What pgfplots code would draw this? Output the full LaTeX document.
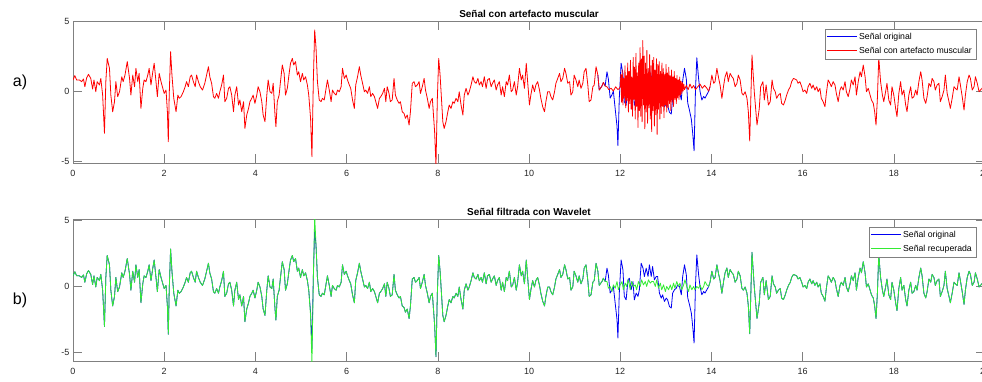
\documentclass[border=0pt]{standalone}
\usepackage{fontspec}
\setmainfont{Liberation Sans}
\usepackage{pgfplots}
\usepackage{pgfplotstable}
\pgfplotsset{compat=1.18}
\definecolor{mblue}{rgb}{0,0,0.95}
\definecolor{mred}{rgb}{1,0,0}
\definecolor{mgreen}{rgb}{0.2,0.92,0.2}
\definecolor{axgray}{gray}{0.5}

\pgfplotstableread[row sep=\\]{x y\\
0.00 0.79\\0.04 1.10\\0.08 0.79\\0.14 0.79\\0.19 0.67\\0.23 0.86\\0.26 0.31\\0.30 0.95\\0.34 1.19\\0.39 0.90\\0.43 0.14\\0.46 0.79\\0.50 -0.05\\0.53 0.67\\0.58 0.43\\0.61 0.90\\0.65 -0.29\\0.69 -3.02\\0.72 0.67\\0.75 2.33\\0.80 1.62\\0.83 -0.29\\0.87 -1.48\\0.91 -0.76\\0.94 0.67\\0.98 -0.40\\1.02 -0.05\\1.07 1.02\\1.10 0.67\\1.14 1.14\\1.19 2.10\\1.24 0.90\\1.27 -0.29\\1.31 1.14\\1.35 0.31\\1.38 1.62\\1.42 0.67\\1.45 1.26\\1.49 -1.24\\1.53 0.19\\1.56 0.79\\1.60 0.67\\1.64 1.14\\1.67 1.62\\1.71 0.43\\1.75 1.38\\1.78 1.98\\1.82 0.67\\1.85 -0.40\\1.89 1.26\\1.93 0.67\\1.97 0.19\\2.00 -0.17\\2.04 0.07\\2.07 -1.48\\2.09 -3.62\\2.11 -0.29\\2.14 2.81\\2.17 1.14\\2.21 -0.52\\2.26 -1.48\\2.30 -0.29\\2.33 -0.52\\2.37 -0.40\\2.42 -0.05\\2.46 0.31\\2.49 0.67\\2.53 0.31\\2.57 1.02\\2.60 1.14\\2.64 0.67\\2.68 0.31\\2.71 1.14\\2.75 0.67\\2.79 0.31\\2.84 0.07\\2.89 0.55\\2.97 1.74\\3.00 1.02\\3.04 0.55\\3.08 -0.40\\3.11 -0.52\\3.15 -0.17\\3.19 -0.52\\3.22 -0.05\\3.26 0.43\\3.30 1.14\\3.33 -0.76\\3.37 -0.52\\3.41 0.19\\3.44 0.31\\3.48 -0.29\\3.52 -1.48\\3.55 -0.29\\3.59 0.31\\3.63 -1.00\\3.66 -0.64\\3.70 -1.48\\3.74 -0.76\\3.77 -2.67\\3.81 -1.71\\3.85 -1.24\\3.88 -0.76\\3.92 -0.52\\3.95 -0.29\\
3.99 -0.88\\4.03 -0.29\\4.06 0.31\\4.10 -0.05\\4.14 -0.76\\4.17 -1.71\\4.21 -2.19\\4.25 -0.29\\4.28 0.79\\4.32 -0.05\\4.36 -0.17\\4.39 0.55\\4.43 -1.71\\4.45 -2.55\\4.48 -0.76\\4.52 -0.29\\4.55 0.67\\4.59 1.86\\4.63 1.26\\4.66 -0.29\\4.70 0.19\\4.74 1.26\\4.77 1.98\\4.81 2.33\\4.84 1.86\\4.88 2.10\\4.92 1.14\\4.95 1.38\\4.99 0.67\\5.03 1.26\\5.06 0.79\\5.10 1.02\\5.14 0.43\\5.17 -0.29\\5.21 -1.95\\5.24 -4.69\\5.27 0.67\\5.30 4.36\\5.33 3.05\\5.36 0.67\\5.40 -0.64\\5.44 -0.76\\5.47 -0.52\\5.51 -0.64\\5.55 0.19\\5.58 0.79\\5.62 0.07\\5.66 -0.76\\5.69 0.07\\5.73 -0.17\\5.77 -0.29\\5.80 0.07\\5.84 -0.05\\5.88 0.31\\5.91 1.62\\5.95 0.90\\5.99 1.14\\6.02 0.79\\6.06 0.43\\6.09 0.19\\6.13 -0.64\\6.17 -1.24\\6.20 0.43\\6.24 1.02\\6.28 1.74\\6.31 1.14\\6.35 0.55\\6.39 -0.05\\6.42 0.07\\6.46 -0.17\\6.50 0.31\\6.53 -0.40\\6.57 -0.17\\6.61 -0.40\\6.64 -0.76\\6.68 -1.24\\6.72 -0.52\\6.75 -0.40\\6.79 -0.17\\6.83 0.19\\6.86 -0.76\\6.89 0.31\\6.93 -0.17\\6.96 -0.76\\7.00 -0.64\\7.04 0.90\\7.07 -0.29\\7.11 -0.64\\7.15 -0.88\\7.18 -0.76\\7.22 -1.48\\7.26 -1.60\\7.29 -1.95\\7.33 -1.71\\7.37 -2.43\\7.40 -1.48\\7.44 0.55\\7.48 0.67\\7.51 0.31\\7.55 0.43\\7.59 0.67\\7.62 -0.17\\7.66 0.31\\7.70 0.90\\7.73 0.07\\7.77 -0.52\\7.81 -1.24\\7.84 -0.76\\7.88 -0.52\\
7.93 -2.90\\7.96 -5.30\\7.99 -0.52\\8.02 2.33\\8.05 1.14\\8.08 -0.52\\8.11 -2.19\\8.14 -2.67\\8.18 -2.19\\8.22 -1.48\\8.25 -1.00\\8.29 -1.24\\8.33 -0.76\\8.36 -0.88\\8.40 -0.52\\8.44 -0.76\\8.47 -0.05\\8.51 -1.00\\8.55 -1.71\\8.58 -0.29\\8.62 0.19\\8.66 -0.29\\8.69 -0.05\\8.73 0.43\\8.77 1.02\\8.80 0.67\\8.84 0.55\\8.88 0.90\\8.91 0.43\\8.95 0.67\\8.98 0.31\\9.02 1.02\\9.06 0.19\\9.09 0.79\\9.13 0.90\\9.17 0.31\\9.20 0.55\\9.24 0.79\\9.28 0.07\\9.31 0.43\\9.35 0.67\\9.39 -0.29\\9.42 0.31\\9.46 -0.40\\9.50 0.67\\9.53 0.43\\9.57 1.14\\9.61 -0.05\\9.64 0.07\\9.68 0.67\\9.72 -0.29\\9.75 0.31\\9.79 1.62\\9.83 0.79\\9.86 1.14\\9.90 0.19\\9.94 1.98\\9.97 0.67\\10.01 -1.00\\10.04 -0.29\\10.08 0.43\\10.12 -0.05\\10.15 0.43\\10.19 0.67\\10.23 0.07\\10.26 -0.52\\10.30 -1.12\\10.34 -1.48\\10.37 -0.76\\10.41 -0.05\\10.45 -0.05\\10.48 -0.40\\10.52 -0.64\\10.56 -0.05\\10.59 0.55\\10.63 0.90\\10.67 1.26\\10.70 0.67\\10.74 0.90\\10.78 1.62\\10.81 1.26\\10.85 0.55\\10.89 0.67\\10.92 -0.29\\10.96 -0.05\\10.99 1.14\\11.03 0.79\\11.07 0.31\\11.10 0.79\\11.14 0.19\\11.18 0.55\\11.21 1.38\\11.25 1.62\\11.29 0.43\\11.32 -0.76\\11.36 -0.64\\11.40 0.31\\11.43 0.43\\11.47 1.74\\11.51 1.14\\11.54 0.07\\
11.60 0.36\\11.63 0.61\\11.67 0.36\\11.71 1.37\\11.74 0.86\\11.78 -0.51\\11.82 -0.26\\11.85 -0.01\\11.89 -1.27\\11.93 -2.52\\11.95 -3.90\\11.98 -0.51\\12.02 1.99\\12.06 1.24\\12.09 -0.76\\12.13 -1.02\\12.17 0.49\\12.20 0.61\\12.24 -0.26\\12.28 0.36\\12.31 -1.02\\12.35 -0.51\\12.39 -0.76\\12.42 -0.26\\12.46 1.74\\12.50 1.37\\12.53 0.74\\12.57 1.37\\12.61 0.74\\12.64 1.62\\12.68 0.74\\12.71 1.49\\12.75 0.49\\12.79 0.74\\12.82 0.74\\12.86 -0.51\\12.90 -0.89\\12.93 -0.64\\12.97 -1.14\\13.01 -0.89\\13.04 -1.02\\13.08 -1.52\\13.12 -1.64\\13.15 -0.51\\13.19 -0.26\\13.23 -0.14\\13.26 0.11\\13.30 -0.01\\13.34 -0.64\\13.37 0.74\\13.41 1.62\\13.45 0.86\\13.48 -0.84\\13.52 -1.39\\13.56 -2.02\\13.59 -3.02\\13.62 -4.27\\13.65 -0.01\\13.68 2.37\\13.72 0.86\\13.75 -0.01\\13.79 -0.64\\13.83 -0.39\\13.86 -0.51\\13.90 -0.26\\13.94 -0.01\\
13.97 0.31\\14.01 1.14\\14.05 0.55\\14.08 0.67\\14.12 1.62\\14.16 0.90\\14.19 0.43\\14.23 -0.52\\14.27 0.43\\14.30 1.02\\14.34 1.38\\14.37 0.67\\14.41 1.26\\14.45 1.02\\14.48 0.90\\14.52 0.31\\14.56 0.55\\14.59 1.14\\14.63 0.79\\14.67 -0.17\\14.70 -0.29\\14.74 -0.05\\14.78 -0.52\\14.81 -1.48\\14.84 -3.57\\14.89 2.57\\14.94 -0.05\\15.00 -2.43\\15.05 -1.24\\15.08 0.31\\15.13 0.67\\15.16 -0.64\\15.20 0.43\\15.25 -1.00\\15.29 -0.76\\15.33 0.79\\15.36 0.19\\15.40 -0.05\\15.43 -0.52\\15.47 -0.29\\15.51 -0.17\\15.54 -0.88\\15.58 -1.00\\15.62 -0.64\\15.65 -0.29\\15.69 0.07\\15.73 0.31\\15.76 0.67\\15.80 0.90\\
15.87 0.79\\15.90 0.55\\15.94 0.67\\15.98 0.31\\16.01 -0.05\\16.05 0.07\\16.09 -0.17\\16.12 0.31\\16.16 0.55\\16.20 0.19\\16.23 0.43\\16.27 0.07\\16.31 0.31\\16.34 -0.05\\16.38 0.19\\16.41 -0.52\\16.45 -0.76\\16.49 -1.12\\16.52 -0.17\\16.56 0.79\\16.60 0.55\\16.63 0.31\\16.67 0.67\\16.71 0.43\\16.74 -0.17\\16.78 -0.76\\16.82 0.07\\16.85 0.31\\16.89 0.07\\16.93 0.67\\16.96 -0.05\\17.00 -0.40\\17.04 0.19\\17.07 0.79\\17.11 0.43\\17.15 1.02\\17.18 -0.29\\17.22 0.67\\17.26 1.38\\17.29 1.02\\17.33 1.86\\17.37 1.02\\17.40 -0.05\\17.44 0.19\\17.47 -0.17\\17.51 -0.64\\17.55 -0.88\\17.58 -1.48\\17.61 -2.43\\17.64 -0.52\\17.67 2.40\\17.71 0.67\\17.75 -0.29\\17.78 -0.76\\17.82 -0.05\\17.85 0.55\\17.89 -0.64\\17.93 -1.00\\17.96 0.31\\18.00 -0.29\\18.04 -1.24\\18.07 -1.83\\18.11 -0.17\\18.15 0.67\\18.18 -0.29\\18.22 0.07\\18.26 -1.00\\18.29 -1.48\\18.33 -0.29\\18.37 0.31\\18.40 -0.52\\18.44 -0.40\\18.48 0.07\\18.51 -0.29\\18.55 0.67\\18.59 1.38\\18.62 0.79\\18.66 -0.52\\18.70 -0.88\\18.73 -0.40\\18.77 0.55\\18.81 0.31\\18.84 0.90\\18.88 0.67\\18.91 0.07\\18.95 0.43\\18.99 0.55\\19.02 -0.76\\19.06 -0.40\\19.10 0.07\\19.13 1.14\\19.17 -0.17\\19.21 -0.76\\19.24 -1.24\\19.28 -0.52\\19.32 0.31\\19.35 0.19\\19.39 0.07\\19.43 1.02\\19.46 0.43\\19.50 -0.40\\19.54 -1.36\\19.57 -0.29\\19.61 0.67\\19.65 1.14\\19.68 0.90\\19.72 0.07\\19.76 0.31\\19.79 1.02\\19.83 0.55\\19.87 -0.05\\19.90 0.07\\19.95 0.25\\20.00 0.05\\
}\orig

\pgfplotstableread[row sep=\\]{x y\\
11.67 0.36\\11.71 0.30\\11.75 0.10\\11.80 0.20\\11.85 0.00\\11.90 0.30\\11.95 0.10\\11.985 0.20\\
12.000 0.3\\12.015 1.2\\12.030 -0.8\\12.045 1.5\\12.060 -1.0\\12.075 0.9\\12.090 -0.5\\12.105 1.8\\12.120 -1.2\\12.135 1.1\\12.150 -0.7\\12.165 2.0\\12.180 -1.5\\12.195 1.4\\12.210 -0.9\\12.225 2.2\\12.240 -1.3\\12.255 1.0\\12.270 -1.8\\12.285 2.4\\12.300 -0.6\\12.315 1.7\\12.330 -2.0\\12.345 2.7\\12.360 -1.1\\12.375 1.3\\12.390 -2.6\\12.405 2.0\\12.420 -1.4\\12.435 3.1\\12.450 -1.8\\12.465 2.3\\12.480 -2.2\\12.495 3.6\\12.510 -1.0\\12.525 2.5\\12.540 -2.7\\12.555 2.0\\12.570 -1.5\\12.585 2.9\\12.600 -2.3\\12.615 1.6\\12.630 -1.2\\12.645 2.6\\12.660 -2.0\\12.675 1.8\\12.690 -2.9\\12.705 2.2\\12.720 -1.4\\12.735 2.4\\12.750 -2.5\\12.765 1.5\\12.780 -1.7\\12.795 2.3\\12.810 -3.1\\12.825 1.9\\12.840 -1.3\\12.855 2.1\\12.870 -2.0\\12.885 1.4\\12.900 -1.6\\12.915 2.0\\12.930 -1.1\\12.945 1.6\\12.960 -1.9\\12.975 1.2\\12.990 -1.0\\13.005 1.9\\13.020 -1.5\\13.035 1.3\\13.050 -1.2\\13.065 1.7\\13.080 -0.9\\13.095 1.1\\13.110 -1.4\\13.125 1.5\\13.140 -0.8\\13.155 1.0\\13.170 -1.1\\13.185 1.4\\13.200 -0.6\\13.215 0.9\\13.230 -0.9\\13.245 1.1\\13.260 -0.5\\13.275 0.8\\13.290 -0.6\\13.305 1.0\\13.320 -0.3\\13.335 0.7\\13.350 -0.2\\13.365 0.6\\13.380 0.0\\13.395 0.5\\
13.41 0.1\\13.45 0.4\\13.49 0.1\\13.53 0.5\\13.57 0.2\\13.61 0.4\\13.65 0.1\\13.70 0.3\\13.75 0.5\\13.80 0.2\\13.85 0.4\\13.90 0.2\\13.94 -0.01\\
}\redart

\pgfplotstableread[row sep=\\]{x y\\
11.67 0.36\\11.71 0.36\\11.74 -0.14\\11.78 -0.01\\11.82 -0.39\\11.85 0.11\\11.89 -0.14\\11.93 0.36\\11.96 -0.26\\12.00 0.11\\12.04 0.36\\12.07 -0.26\\12.11 0.24\\12.14 -0.01\\12.18 0.49\\12.22 -0.26\\12.25 0.36\\12.29 -0.01\\12.33 0.11\\12.36 -0.26\\12.40 0.36\\12.44 -0.01\\12.47 0.49\\12.51 0.11\\12.55 0.36\\12.58 -0.01\\12.62 0.49\\12.66 0.24\\12.69 0.36\\12.73 0.36\\12.77 -0.01\\12.80 0.49\\12.84 -0.14\\12.88 0.24\\12.91 -0.26\\12.95 0.11\\12.99 -0.39\\13.02 -0.01\\13.06 -0.26\\13.10 0.11\\13.13 -0.26\\13.17 0.24\\13.20 -0.14\\13.24 0.36\\13.28 -0.01\\13.31 0.24\\13.35 -0.26\\13.39 0.11\\13.42 0.49\\13.46 -0.01\\13.50 -0.39\\13.53 0.11\\13.57 -0.26\\13.61 -0.01\\13.64 -0.26\\13.68 -0.01\\13.72 -0.14\\13.75 0.11\\13.79 -0.26\\13.83 -0.01\\13.86 0.36\\13.90 0.11\\13.94 -0.01\\
}\greenart

\pgfplotstableread[row sep=\\]{x y\\
5.17 -0.29\\5.21 -2.20\\5.24 -5.80\\5.27 0.50\\5.30 5.30\\5.33 3.00\\5.36 0.67\\
}\greenspike

\pgfplotsset{eegax/.style={
  scale only axis, width=912pt, height=142pt,
  xmin=0, xmax=20,
  xtick={0,2,...,20}, xticklabels={0,2,4,6,8,10,12,14,16,18,20},
  ytick={-5,0,5}, yticklabels={-5,0,5},
  tick align=inside, major tick length=9pt,
  axis line style={axgray, line width=0.6pt},
  every tick/.style={axgray, line width=0.6pt},
  tick label style={font=\fontsize{9}{10}\selectfont, text=black!85},
  xticklabel style={yshift=-4pt},
  title style={font=\fontsize{10}{12}\selectfont\bfseries, yshift=-6.5pt},
  legend style={font=\fontsize{8.7}{10}\selectfont, draw=axgray, at={(1,1)}, anchor=north east,
    xshift=-9pt, yshift=-8pt, inner xsep=2pt, inner ysep=2pt, row sep=2.5pt, legend cell align=left},
  every axis plot/.append style={line width=0.8pt, line join=round},
}}

\begin{document}
\begin{tikzpicture}[x=1pt,y=1pt]
\useasboundingbox (0,0) rectangle (982,-381);
\begin{axis}[eegax, at={(73pt,-21pt)}, anchor=north west, ymin=-5.14, ymax=5,
  title={Señal con artefacto muscular}]
\addlegendimage{legend image code/.code={\node[inner sep=0pt, anchor=west] at (0pt,0pt) {\textcolor{mblue}{\rule[-0.45pt]{30pt}{0.9pt}}};}}
\addlegendentry{Señal original}
\addlegendimage{legend image code/.code={\node[inner sep=0pt, anchor=west] at (0pt,0pt) {\textcolor{mred}{\rule[-0.45pt]{30pt}{0.9pt}}};}}
\addlegendentry{Señal con artefacto muscular}
\addplot[mblue, forget plot, restrict x to domain=11.5:14.0] table {\orig};
\addplot[mred, forget plot, restrict x to domain=0:11.68] table {\orig};
\addplot[mred, forget plot] table {\redart};
\addplot[mred, forget plot, restrict x to domain=13.93:20] table {\orig};
\end{axis}
\begin{axis}[eegax, at={(73pt,-219pt)}, anchor=north west, ymin=-5.63, ymax=5.075,
  title={Señal filtrada con Wavelet}]
\addlegendimage{legend image code/.code={\node[inner sep=0pt, anchor=west] at (0pt,0pt) {\textcolor{mblue}{\rule[-0.45pt]{30pt}{0.9pt}}};}}
\addlegendentry{Señal original}
\addlegendimage{legend image code/.code={\node[inner sep=0pt, anchor=west] at (0pt,0pt) {\textcolor{mgreen}{\rule[-0.45pt]{30pt}{0.9pt}}};}}
\addlegendentry{Señal recuperada}
\addplot[mblue, forget plot] table {\orig};
\addplot[mgreen, forget plot, restrict x to domain=0:5.18] table {\orig};
\addplot[mgreen, forget plot] table {\greenspike};
\addplot[mgreen, forget plot, restrict x to domain=5.355:11.68] table {\orig};
\addplot[mgreen, forget plot] table {\greenart};
\addplot[mgreen, forget plot, restrict x to domain=13.93:20] table {\orig};
\end{axis}
\node[font=\fontsize{16}{18}\selectfont] at (20,-82) {a)};
\node[font=\fontsize{16}{18}\selectfont] at (20,-300) {b)};
\end{tikzpicture}
\end{document}
